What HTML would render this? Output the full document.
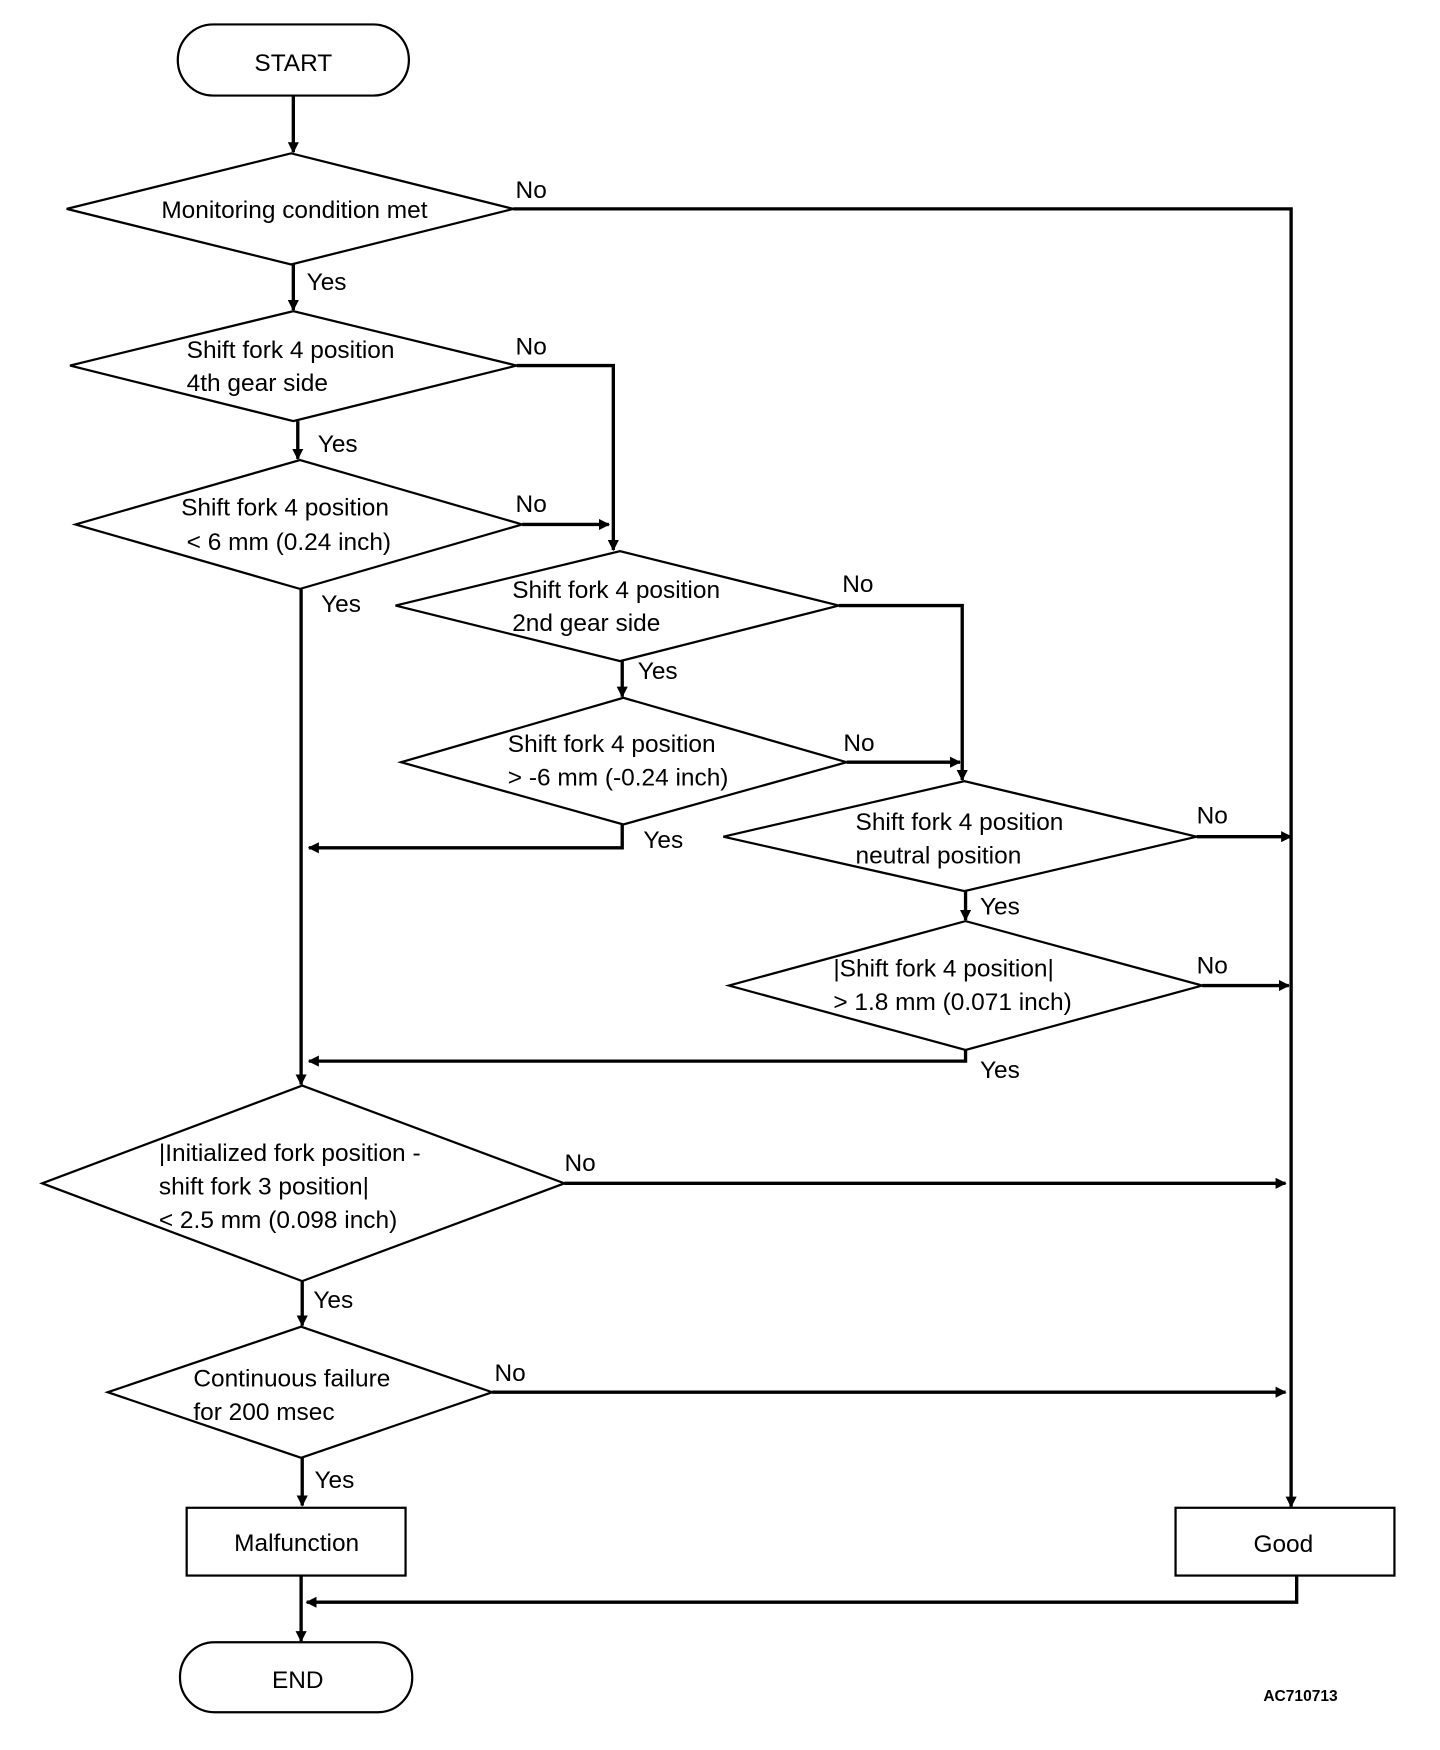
<!DOCTYPE html>
<html><head><meta charset="utf-8"><style>
html,body{margin:0;padding:0;background:#fff;}
svg{display:block;}
text{font-family:"Liberation Sans",Arial,sans-serif;font-size:22px;fill:#000;}
</style></head><body>
<svg width="1440" height="1750" viewBox="0 0 1296 1575" xmlns="http://www.w3.org/2000/svg">
<defs>
<marker id="a" markerWidth="10" markerHeight="10" refX="9" refY="5" orient="auto" markerUnits="userSpaceOnUse" viewBox="0 0 10 10">
<path d="M0,0 L10,5 L0,10 z" fill="#000"/>
</marker>
</defs>
<g fill="none" stroke="#000" stroke-width="2">
<rect x="160" y="22" width="208" height="64" rx="32"/>
<rect x="162" y="1478" width="209" height="63" rx="31"/>
<rect x="168" y="1357" width="197" height="61"/>
<rect x="1058" y="1357" width="197" height="61"/>
<polygon points="60,188 262,138 462,188 262,238"/>
<polygon points="63,329 264,280 465,329 264,379"/>
<polygon points="68,472 270,414 470,472 270,530"/>
<polygon points="356,545 558,496 755,545 558,595"/>
<polygon points="361,686 561,628 762,686 561,742"/>
<polygon points="651,753 868,703 1077,753 868,802"/>
<polygon points="656,887 869,829 1082,887 869,945"/>
<polygon points="38,1065 272,977 508,1065 272,1153"/>
<polygon points="97,1253 271,1194 443,1253 271,1312"/>
</g>
<g fill="none" stroke="#000" stroke-width="3" marker-end="url(#a)">
<path d="M264,86 V137"/>
<path d="M462,188 H1162 V1356"/>
<path d="M264,238 V279"/>
<path d="M465,329 H552 V495"/>
<path d="M268,379 V413"/>
<path d="M470,472 H548"/>
<path d="M271,530 V976"/>
<path d="M755,545 H866 V702"/>
<path d="M560,595 V627"/>
<path d="M762,686 H864"/>
<path d="M560,742 V763 H278"/>
<path d="M1077,753 H1162"/>
<path d="M869,802 V828"/>
<path d="M1082,887 H1160"/>
<path d="M869,945 V955 H278"/>
<path d="M508,1065 H1157"/>
<path d="M272,1153 V1193"/>
<path d="M443,1253 H1157"/>
<path d="M272,1312 V1355"/>
<path d="M1167,1418 V1442 H276"/>
<path d="M271,1418 V1477"/>
</g>
<text x="264" y="64" text-anchor="middle">START</text>
<text x="268" y="1519" text-anchor="middle">END</text>
<text x="267" y="1396" text-anchor="middle">Malfunction</text>
<text x="1155" y="1397" text-anchor="middle">Good</text>
<text x="265" y="196" text-anchor="middle">Monitoring condition met</text>
<text x="168" y="322">Shift fork 4 position</text>
<text x="168" y="352">4th gear side</text>
<text x="163" y="464">Shift fork 4 position</text>
<text x="168" y="495">&lt; 6 mm (0.24 inch)</text>
<text x="461" y="538">Shift fork 4 position</text>
<text x="461" y="568">2nd gear side</text>
<text x="457" y="677">Shift fork 4 position</text>
<text x="457" y="707">&gt; -6 mm (-0.24 inch)</text>
<text x="770" y="747">Shift fork 4 position</text>
<text x="770" y="777">neutral position</text>
<text x="750" y="879">|Shift fork 4 position|</text>
<text x="750" y="909">&gt; 1.8 mm (0.071 inch)</text>
<text x="143" y="1045">|Initialized fork position -</text>
<text x="143" y="1075">shift fork 3 position|</text>
<text x="143" y="1105">&lt; 2.5 mm (0.098 inch)</text>
<text x="174" y="1248">Continuous failure</text>
<text x="174" y="1278">for 200 msec</text>
<text x="464" y="178">No</text>
<text x="276" y="261">Yes</text>
<text x="464" y="319">No</text>
<text x="286" y="407">Yes</text>
<text x="464" y="461">No</text>
<text x="289" y="551">Yes</text>
<text x="758" y="533">No</text>
<text x="574" y="611">Yes</text>
<text x="759" y="676">No</text>
<text x="579" y="763">Yes</text>
<text x="1077" y="741">No</text>
<text x="882" y="823">Yes</text>
<text x="1077" y="876">No</text>
<text x="882" y="970">Yes</text>
<text x="508" y="1054">No</text>
<text x="282" y="1177">Yes</text>
<text x="445" y="1243">No</text>
<text x="283" y="1339">Yes</text>
<text x="1137" y="1531" style="font-size:14px;font-weight:bold">AC710713</text>
</svg>
</body></html>
